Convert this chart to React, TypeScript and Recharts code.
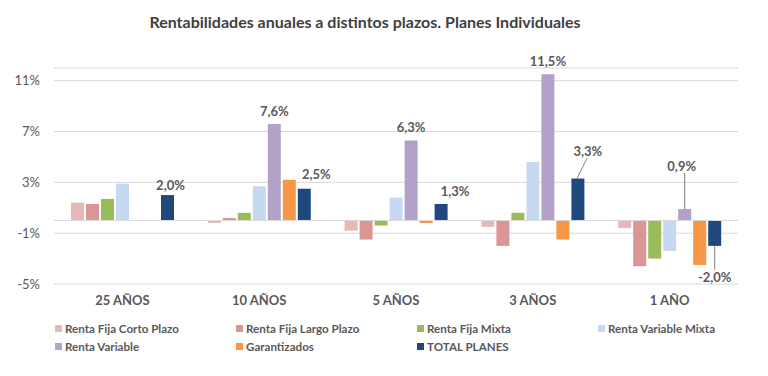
import { Bar, BarChart, CartesianGrid, LabelList, Legend, ReferenceLine, XAxis, YAxis } from 'recharts'

const plazos = ['25 AÑOS', '10 AÑOS', '5 AÑOS', '3 AÑOS', '1 AÑO']
const rfCorto = [1.4, -0.2, -0.8, -0.5, -0.6]
const rfLargo = [1.3, 0.2, -1.5, -2.0, -3.6]
const rfMixta = [1.7, 0.6, -0.4, 0.6, -3.0]
const rvMixta = [2.9, 2.7, 1.8, 4.6, -2.4]
const rv = [null, 7.6, 6.3, 11.5, 0.9]
const garantizados = [null, 3.2, -0.2, -1.5, -3.5]
const totalPlanes = [2.0, 2.5, 1.3, 3.3, -2.0]
const yTicks = [-5, -1, 3, 7, 11]

const series = [
  { key: 'rfCorto', name: 'Renta Fija Corto Plazo', color: '#E6B9B8', values: rfCorto },
  { key: 'rfLargo', name: 'Renta Fija Largo Plazo', color: '#DA9694', values: rfLargo },
  { key: 'rfMixta', name: 'Renta Fija Mixta', color: '#9BBB59', values: rfMixta },
  { key: 'rvMixta', name: 'Renta Variable Mixta', color: '#C6D9F1', values: rvMixta },
  { key: 'rv', name: 'Renta Variable', color: '#B3A2C7', values: rv },
  { key: 'garantizados', name: 'Garantizados', color: '#F79646', values: garantizados },
  { key: 'total', name: 'TOTAL PLANES', color: '#1F497D', values: totalPlanes },
]

const data = plazos.map((p, i) => {
  const row: Record<string, any> = { plazo: p }
  series.forEach((s) => (row[s.key] = s.values[i]))
  return row
})

const FONT = 'Lato, "Open Sans", sans-serif'
const TEXT = '#595959'
const LEADER = '#7F7F7F'

const fmt = (v: number) => v.toFixed(1).replace('.', ',') + '%'

const labelStyle = { fontSize: 13, fontWeight: 700, fill: TEXT, fontFamily: FONT }

// short bars get their label lifted on a leader line
function rvLabel(props: any) {
  const { x, y, width, height, value } = props
  if (value == null) return null
  const cx = x + width / 2
  const top = Math.min(y, y + height)
  if (Math.abs(height) < 20) {
    return (
      <g>
        <line x1={cx} y1={top} x2={cx} y2={top - 36} stroke={LEADER} strokeWidth={1} />
        <text x={cx - 3} y={top - 38} textAnchor="middle" {...labelStyle}>
          {fmt(value)}
        </text>
      </g>
    )
  }
  return (
    <text x={cx} y={top - 8} textAnchor="middle" {...labelStyle}>
      {fmt(value)}
    </text>
  )
}

function totalLabel(props: any) {
  const { x, y, width, height, value, index } = props
  if (value == null) return null
  const cx = x + width / 2
  const top = Math.min(y, y + height)
  const bottom = Math.max(y, y + height)
  if (value < 0) {
    return (
      <g>
        <line x1={cx} y1={bottom} x2={cx} y2={bottom + 24} stroke={LEADER} strokeWidth={1} />
        <text x={cx} y={bottom + 36} textAnchor="middle" {...labelStyle}>
          {fmt(value)}
        </text>
      </g>
    )
  }
  if (index === 3) {
    return (
      <g>
        <line x1={cx - 1} y1={top} x2={cx + 9} y2={top - 20} stroke={LEADER} strokeWidth={1} />
        <text x={cx + 10} y={top - 23} textAnchor="middle" {...labelStyle}>
          {fmt(value)}
        </text>
      </g>
    )
  }
  const shift = [3, 12, 14][index] ?? 0
  const lift = [5, 10, 8][index] ?? 6
  return (
    <text x={cx + shift} y={top - lift} textAnchor="middle" {...labelStyle}>
      {fmt(value)}
    </text>
  )
}

function LegendGrid() {
  return (
    <div
      style={{
        height: 62,
        boxSizing: 'border-box',
        paddingTop: 5,
        paddingLeft: 55,
        display: 'grid',
        gridTemplateColumns: 'repeat(4, 181px)',
        gridAutoRows: 18,
        fontFamily: FONT,
      }}
    >
      {series.map((s) => (
        <div
          key={s.key}
          style={{ display: 'flex', alignItems: 'center', fontSize: 11.6, fontWeight: 700, color: TEXT }}
        >
          <span style={{ width: 7, height: 7, background: s.color, marginRight: 3, flex: 'none' }} />
          {s.name}
        </div>
      ))}
    </div>
  )
}

export default function App() {
  return (
    <div style={{ position: 'relative', width: 768, height: 376, background: '#fff', fontFamily: FONT }}>
      <style>{'body{margin:0}'}</style>
      <div
        style={{
          position: 'absolute',
          top: 12,
          left: 0,
          width: 730,
          textAlign: 'center',
          fontSize: 16,
          fontWeight: 700,
          color: '#404040',
        }}
      >
        Rentabilidades anuales a distintos plazos. Planes Individuales
      </div>
      <BarChart
        width={768}
        height={376}
        data={data}
        margin={{ top: 68, right: 30, left: 0, bottom: 0 }}
        barSize={13}
        barGap={2}
      >
        <CartesianGrid vertical={false} stroke="#D9D9D9" />
        <ReferenceLine y={0} stroke="#D9D9D9" />
        <XAxis
          dataKey="plazo"
          axisLine={false}
          tickLine={false}
          height={30}
          tickMargin={6}
          tick={{ fontSize: 13, fontWeight: 700, fill: TEXT, fontFamily: FONT }}
        />
        <YAxis
          width={54}
          domain={[-5, 12]}
          allowDataOverflow
          ticks={yTicks}
          interval={0}
          axisLine={false}
          tickLine={false}
          tickMargin={8}
          tickFormatter={(v: number) => `${v}%`}
          tick={{ fontSize: 13, fill: TEXT, fontFamily: FONT }}
        />
        <Legend
          verticalAlign="bottom"
          content={LegendGrid}
          wrapperStyle={{ left: 0, width: 768, height: 62 }}
        />
        {series.map((s) => (
          <Bar key={s.key} dataKey={s.key} name={s.name} fill={s.color} isAnimationActive={false}>
            {s.key === 'rv' && <LabelList dataKey="rv" content={rvLabel} />}
            {s.key === 'total' && <LabelList dataKey="total" content={totalLabel} />}
          </Bar>
        ))}
      </BarChart>
    </div>
  )
}
